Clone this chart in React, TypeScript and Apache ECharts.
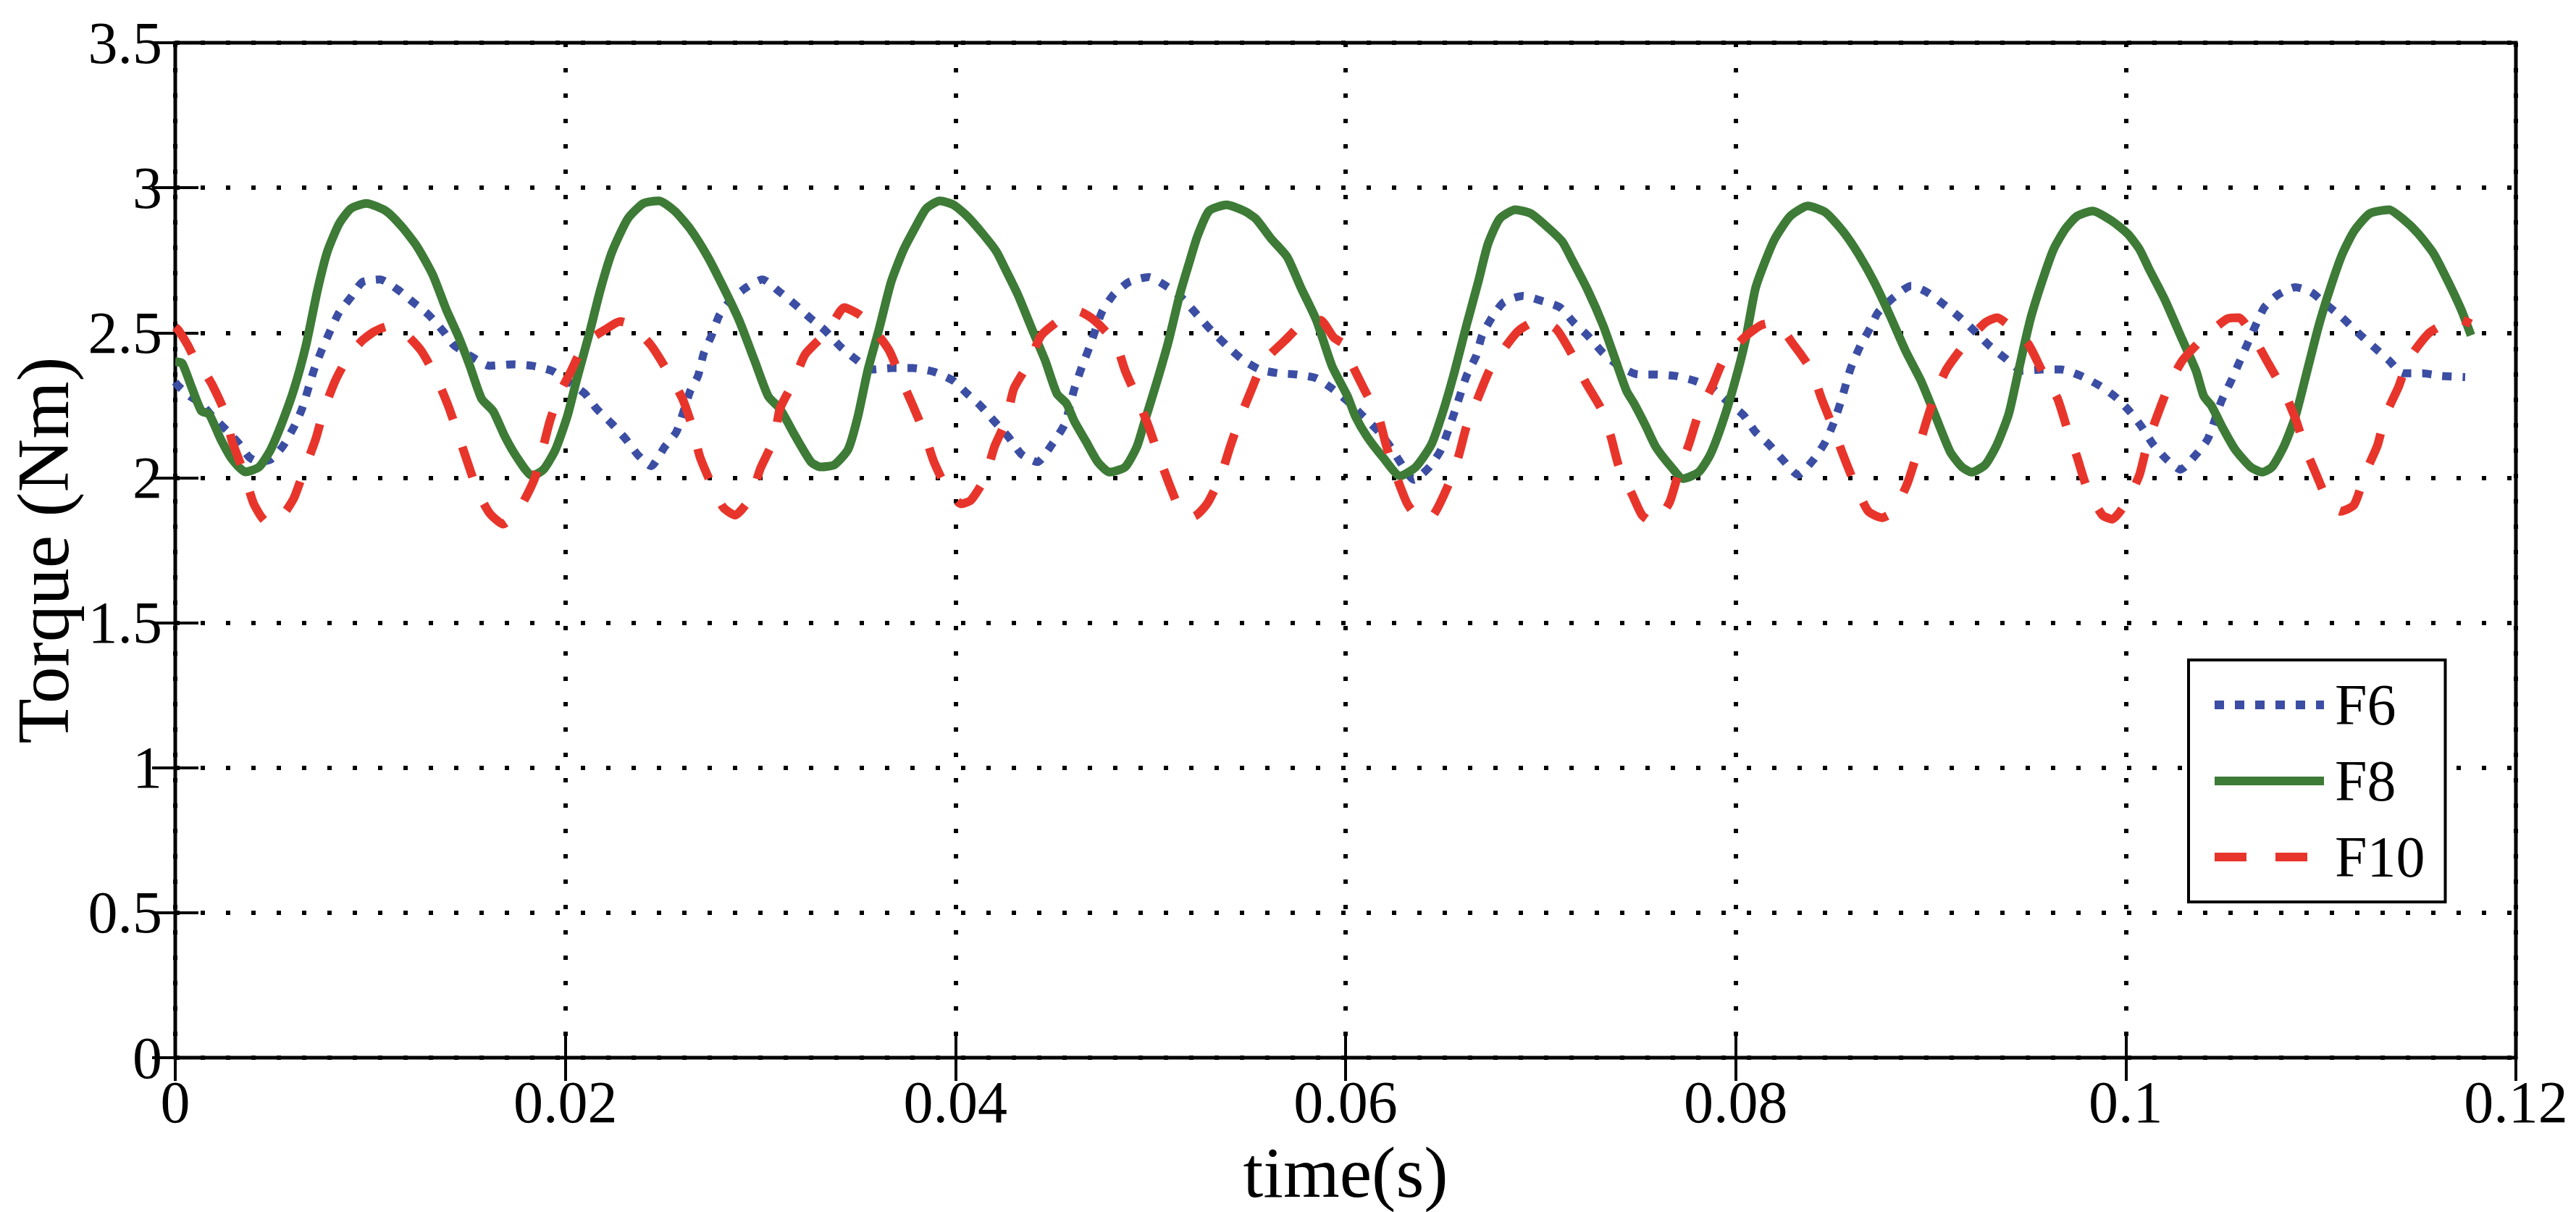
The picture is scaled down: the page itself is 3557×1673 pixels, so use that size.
import React, { useEffect, useRef } from "react";
import * as echarts from "echarts";

const SERIES_NAMES = ["F6", "F8", "F10"];
const X_MIN = 0;
const X_MAX = 0.12;
const X_STEP = 0.02;
const Y_MIN = 0;
const Y_MAX = 3.5;
const Y_STEP = 0.5;

const F6_DATA: number[][] = [
  [0, 2.33], [0.00016, 2.316], [0.00075, 2.281], [0.00134, 2.255], [0.0019, 2.212], [0.0027, 2.159],
  [0.0033, 2.115], [0.0038, 2.07], [0.0043, 2.054], [0.0049, 2.063], [0.0055, 2.107], [0.0061, 2.177],
  [0.0065, 2.238], [0.0071, 2.369], [0.0075, 2.439], [0.0079, 2.5], [0.0084, 2.57], [0.009, 2.622],
  [0.0096, 2.675], [0.0105, 2.684], [0.0114, 2.649], [0.0122, 2.605], [0.013, 2.561], [0.0138, 2.5],
  [0.0143, 2.456], [0.0153, 2.413], [0.0161, 2.386], [0.0173, 2.391], [0.0183, 2.386], [0.0193, 2.369],
  [0.0201, 2.334], [0.021, 2.29], [0.0216, 2.238], [0.0224, 2.185], [0.0231, 2.133], [0.0237, 2.08],
  [0.0244, 2.04], [0.0251, 2.107], [0.0257, 2.159], [0.0264, 2.299], [0.0268, 2.351], [0.0271, 2.43],
  [0.0275, 2.491], [0.0279, 2.561], [0.0285, 2.614], [0.0293, 2.657],
  [0.0301, 2.684], [0.031, 2.64], [0.0318, 2.596], [0.0326, 2.548], [0.0333, 2.509], [0.0341, 2.452],
  [0.0349, 2.408], [0.0357, 2.373], [0.0367, 2.378], [0.0378, 2.378], [0.0389, 2.365], [0.0399, 2.334],
  [0.0406, 2.29], [0.0413, 2.247], [0.042, 2.194], [0.0427, 2.142], [0.0434, 2.08], [0.0442, 2.054],
  [0.045, 2.12], [0.0456, 2.185], [0.0461, 2.308], [0.0465, 2.386], [0.0469, 2.456], [0.0475, 2.57],
  [0.0481, 2.631], [0.0489, 2.675], [0.0499, 2.692], [0.0509, 2.657], [0.0517, 2.614], [0.0524, 2.561],
  [0.0531, 2.509], [0.0539, 2.456], [0.0547, 2.408], [0.0556, 2.373], [0.0566, 2.36], [0.0575, 2.356],
  [0.0585, 2.343], [0.0593, 2.308], [0.0601, 2.264],
  [0.0609, 2.212], [0.0617, 2.159], [0.0623, 2.107], [0.0628, 2.054], [0.0635, 1.993], [0.0643, 2.037],
  [0.0649, 2.098], [0.0656, 2.229], [0.0662, 2.351], [0.0667, 2.421], [0.067, 2.491], [0.0675, 2.552],
  [0.0681, 2.605], [0.0691, 2.627], [0.0701, 2.609], [0.071, 2.587], [0.0717, 2.535], [0.0724, 2.491],
  [0.0732, 2.43], [0.074, 2.386], [0.075, 2.356], [0.0759, 2.356], [0.0769, 2.351], [0.0779, 2.334],
  [0.0788, 2.308], [0.0797, 2.255], [0.0804, 2.216], [0.081, 2.159], [0.0817, 2.115], [0.0824, 2.063],
  [0.0832, 2.01], [0.084, 2.063], [0.0846, 2.124], [0.085, 2.185], [0.0854, 2.264], [0.0859, 2.378],
  [0.0864, 2.456], [0.0869, 2.517], [0.0873, 2.57], [0.0881, 2.622], [0.089, 2.662], [0.0898, 2.64],
  [0.0907, 2.596], [0.0915, 2.552], [0.0922, 2.509], [0.093, 2.456], [0.0938, 2.413], [0.0947, 2.369],
  [0.0957, 2.373], [0.0967, 2.373], [0.0977, 2.351], [0.0987, 2.316], [0.0995, 2.277], [0.1002, 2.229],
  [0.1008, 2.177], [0.1014, 2.115], [0.1021, 2.063], [0.1028, 2.028], [0.1036, 2.08], [0.1042, 2.133],
  [0.1049, 2.264], [0.1054, 2.334], [0.1058, 2.395], [0.1062, 2.456], [0.1066, 2.517], [0.1071, 2.587],
  [0.1078, 2.631], [0.1087, 2.657], [0.1095, 2.64], [0.1103, 2.596], [0.1111, 2.552], [0.1119, 2.5],
  [0.1127, 2.452], [0.1135, 2.404], [0.1142, 2.36], [0.1152, 2.36], [0.1162, 2.351], [0.1174, 2.347],
];

const F8_DATA: number[][] = [
  [0, 2.4], [0.00035, 2.395], [0.00085, 2.31], [0.00134, 2.23], [0.00173, 2.22], [0.00233, 2.133],
  [0.00292, 2.063], [0.0036, 2.02], [0.0043, 2.037], [0.0049, 2.098], [0.0055, 2.194], [0.0061, 2.308],
  [0.0067, 2.456], [0.0073, 2.649], [0.0078, 2.78], [0.0084, 2.876], [0.009, 2.928], [0.0098, 2.946],
  [0.0108, 2.92], [0.0116, 2.867], [0.0124, 2.797], [0.0132, 2.7], [0.0139, 2.579], [0.0145, 2.49],
  [0.0151, 2.386], [0.0157, 2.273], [0.0163, 2.229], [0.0169, 2.142], [0.0175, 2.072], [0.0183, 2.006],
  [0.0189, 2.03], [0.0195, 2.098], [0.0201, 2.212], [0.0206, 2.343], [0.0212, 2.49], [0.0218, 2.649],
  [0.0224, 2.78], [0.0232, 2.893], [0.024, 2.946], [0.0248, 2.955], [0.0256, 2.92], [0.0264, 2.858],
  [0.0273, 2.762], [0.0281, 2.657], [0.0289, 2.544], [0.0297, 2.404],
  [0.0304, 2.281], [0.031, 2.238], [0.0318, 2.142], [0.0326, 2.054], [0.0331, 2.037], [0.0338, 2.045],
  [0.0345, 2.098], [0.035, 2.212], [0.0355, 2.369], [0.0361, 2.517], [0.0367, 2.675], [0.0373, 2.78],
  [0.0379, 2.858], [0.0385, 2.928], [0.0392, 2.955], [0.0399, 2.941], [0.0406, 2.902], [0.0414, 2.841],
  [0.0421, 2.78], [0.0425, 2.727], [0.0432, 2.631], [0.044, 2.5], [0.0446, 2.404], [0.0452, 2.29],
  [0.0457, 2.255], [0.0461, 2.194], [0.0467, 2.124], [0.0473, 2.054], [0.0479, 2.019], [0.0487, 2.037],
  [0.0493, 2.107], [0.0497, 2.194], [0.0503, 2.325], [0.0509, 2.465], [0.0515, 2.631], [0.052, 2.745],
  [0.0524, 2.832], [0.053, 2.92], [0.0539, 2.941], [0.0548, 2.92], [0.0554, 2.893], [0.0562, 2.823],
  [0.057, 2.762], [0.0577, 2.657], [0.0585, 2.544], [0.0593, 2.386], [0.0601, 2.281],
  [0.0605, 2.212], [0.0611, 2.142], [0.0619, 2.072], [0.0628, 2.006], [0.0636, 2.037], [0.0644, 2.115],
  [0.065, 2.229], [0.0656, 2.369], [0.0662, 2.526], [0.0668, 2.675], [0.0673, 2.806], [0.0679, 2.893],
  [0.0687, 2.924], [0.0695, 2.911], [0.0703, 2.867], [0.0711, 2.815], [0.0716, 2.753], [0.0724, 2.649],
  [0.0732, 2.526], [0.0738, 2.413], [0.0744, 2.3], [0.0748, 2.255], [0.0754, 2.177], [0.0759, 2.107],
  [0.0767, 2.037], [0.0773, 1.997], [0.0781, 2.019], [0.0787, 2.08], [0.0793, 2.185], [0.0799, 2.316],
  [0.0805, 2.474], [0.081, 2.649], [0.0814, 2.727], [0.082, 2.823], [0.0828, 2.902], [0.0837, 2.937],
  [0.0846, 2.915], [0.0855, 2.85], [0.0863, 2.771], [0.0871, 2.675], [0.0879, 2.561], [0.0887, 2.439],
  [0.0895, 2.334], [0.0902, 2.22],
  [0.091, 2.089], [0.0916, 2.037], [0.0921, 2.019], [0.0928, 2.045], [0.0934, 2.115], [0.094, 2.22],
  [0.0945, 2.369], [0.0951, 2.544], [0.0957, 2.675], [0.0963, 2.788], [0.0969, 2.858], [0.0975, 2.902],
  [0.0983, 2.92], [0.0993, 2.885], [0.1001, 2.841], [0.1007, 2.788], [0.1012, 2.719], [0.102, 2.614],
  [0.1028, 2.491], [0.1036, 2.369], [0.104, 2.281], [0.1044, 2.247], [0.105, 2.168], [0.1056, 2.098],
  [0.1064, 2.037], [0.107, 2.019], [0.1075, 2.037], [0.1081, 2.107], [0.1087, 2.212], [0.1093, 2.369],
  [0.1099, 2.526], [0.1105, 2.657], [0.1111, 2.771], [0.1117, 2.85], [0.1125, 2.911], [0.1135, 2.924],
  [0.1142, 2.893], [0.115, 2.841], [0.1158, 2.771], [0.1166, 2.666], [0.1172, 2.579], [0.1177, 2.491],
];

const F10_DATA: number[][] = [
  [0, 2.52], [0.00016, 2.509], [0.00065, 2.456], [0.00104, 2.404], [0.00154, 2.36], [0.00193, 2.316],
  [0.00252, 2.229], [0.00292, 2.124], [0.00351, 2.019], [0.004, 1.914], [0.0044, 1.866], [0.0048, 1.84],
  [0.0053, 1.862], [0.0057, 1.888], [0.0061, 1.932], [0.0066, 2.024], [0.0072, 2.133], [0.0076, 2.229],
  [0.0082, 2.334], [0.0089, 2.421], [0.0096, 2.474], [0.0102, 2.504], [0.0109, 2.522], [0.0116, 2.509],
  [0.0126, 2.439], [0.0134, 2.343], [0.014, 2.247], [0.0145, 2.15], [0.015, 2.05], [0.0155, 1.954],
  [0.0161, 1.879], [0.0168, 1.84], [0.0176, 1.888], [0.0184, 1.993], [0.0188, 2.089], [0.0192, 2.194],
  [0.0197, 2.29], [0.0203, 2.369], [0.0208, 2.439], [0.0214, 2.483], [0.022, 2.509], [0.0228, 2.539],
  [0.0234, 2.526], [0.0244, 2.456], [0.0253, 2.36], [0.026, 2.273], [0.0265, 2.177], [0.0269, 2.072],
  [0.0275, 1.976], [0.0281, 1.897], [0.0287, 1.871], [0.0295, 1.932], [0.03, 2.032], [0.0307, 2.133],
  [0.031, 2.238], [0.0317, 2.33], [0.0323, 2.426], [0.0335, 2.509], [0.0343, 2.587], [0.0351, 2.561],
  [0.0357, 2.522], [0.0366, 2.439], [0.0372, 2.343], [0.0378, 2.251], [0.0384, 2.155], [0.0389, 2.054],
  [0.0396, 1.958], [0.0403, 1.91], [0.0408, 1.923], [0.0415, 1.997], [0.042, 2.107], [0.0426, 2.198],
  [0.043, 2.308], [0.0438, 2.4], [0.0444, 2.491], [0.0457, 2.561], [0.0463, 2.574], [0.0471, 2.544],
  [0.0482, 2.465], [0.0487, 2.369], [0.0493, 2.277], [0.0499, 2.177], [0.0504, 2.08], [0.051, 1.971],
  [0.0516, 1.879], [0.0522, 1.866], [0.0529, 1.91], [0.0536, 2.006], [0.0541, 2.111], [0.0546, 2.207],
  [0.0552, 2.308], [0.0558, 2.4], [0.0569, 2.474], [0.0581, 2.544], [0.0587, 2.544], [0.0594, 2.483],
  [0.06, 2.456], [0.0603, 2.395], [0.061, 2.299], [0.0617, 2.207], [0.0621, 2.107], [0.0626, 2.006],
  [0.0632, 1.906], [0.0639, 1.857], [0.0645, 1.871], [0.0653, 1.98], [0.0658, 2.076], [0.0662, 2.177],
  [0.0668, 2.277], [0.0674, 2.373], [0.0683, 2.461], [0.0689, 2.509], [0.0699, 2.544], [0.0708, 2.513],
  [0.0716, 2.426], [0.0723, 2.33], [0.0731, 2.238], [0.0736, 2.142], [0.074, 2.041], [0.0747, 1.941],
  [0.0752, 1.871], [0.0758, 1.844], [0.0766, 1.914], [0.0771, 2.024], [0.0776, 2.115], [0.0781, 2.22],
  [0.0788, 2.316], [0.0794, 2.408], [0.0805, 2.487], [0.0813, 2.526], [0.082, 2.535], [0.083, 2.456],
  [0.0839, 2.369], [0.0844, 2.273], [0.085, 2.172], [0.0855, 2.08], [0.0861, 1.98], [0.0868, 1.884],
  [0.0875, 1.862], [0.0881, 1.884], [0.0888, 1.98], [0.0893, 2.085], [0.0897, 2.177], [0.0902, 2.281],
  [0.0908, 2.373], [0.0918, 2.465], [0.0928, 2.535], [0.0934, 2.552], [0.094, 2.526], [0.095, 2.461],
  [0.0957, 2.369], [0.0965, 2.273], [0.097, 2.168], [0.0975, 2.072], [0.098, 1.967], [0.0988, 1.871],
  [0.0993, 1.857], [0.1001, 1.923], [0.1007, 2.01], [0.1011, 2.115], [0.1016, 2.212], [0.1022, 2.316],
  [0.1029, 2.404], [0.104, 2.483], [0.1052, 2.548], [0.1058, 2.552], [0.1066, 2.478], [0.1073, 2.395],
  [0.1081, 2.299], [0.1087, 2.203], [0.1092, 2.102], [0.1098, 2.006], [0.1104, 1.914], [0.111, 1.884],
  [0.1117, 1.906], [0.1123, 2.019], [0.1129, 2.111], [0.1133, 2.212], [0.114, 2.316], [0.1145, 2.408],
  [0.1155, 2.496], [0.1162, 2.526], [0.117, 2.548], [0.1177, 2.531],
];

const FONT = "'Liberation Serif', 'Times New Roman', serif";
const BLUE = "#3b4ea3";
const GREEN = "#3d7b37";
const RED = "#e8352b";

export default function App() {
  const ref = useRef<HTMLDivElement>(null);

  useEffect(() => {
    if (!ref.current) return;
    const chart = echarts.init(ref.current, null, { renderer: "svg" });
    const tickStyle = { color: "#000", width: 4 };
    const gridDots = { color: "#000", width: 6, type: [6, 29], cap: "butt" };
    const option: any = {
      animation: false,
      backgroundColor: "#fff",
      grid: {
        left: 238,
        right: 83,
        top: 59,
        bottom: 212,
        show: true,
        borderColor: "#000",
        borderWidth: 5,
        backgroundColor: "#fff",
        z: 0,
      },
      xAxis: [
        {
          type: "value",
          min: X_MIN,
          max: X_MAX,
          interval: X_STEP,
          position: "bottom",
          axisLine: { show: false },
          axisTick: { show: true, inside: true, length: 32, lineStyle: tickStyle },
          axisLabel: { color: "#000", fontFamily: FONT, fontSize: 82, margin: 20 },
          splitLine: { show: true, lineStyle: gridDots },
          name: "time(s)",
          nameLocation: "middle",
          nameGap: 108,
          nameTextStyle: { color: "#000", fontFamily: FONT, fontSize: 100 },
        },
        {
          type: "value",
          min: X_MIN,
          max: X_MAX,
          interval: X_STEP,
          position: "top",
          axisLine: { show: false },
          axisTick: { show: true, inside: true, length: 32, lineStyle: tickStyle },
          axisLabel: { show: false },
          splitLine: { show: false },
        },
      ],
      yAxis: [
        {
          type: "value",
          min: Y_MIN,
          max: Y_MAX,
          interval: Y_STEP,
          position: "left",
          axisLine: { show: false },
          axisTick: { show: true, inside: true, length: 32, lineStyle: tickStyle },
          axisLabel: { color: "#000", fontFamily: FONT, fontSize: 82, margin: 18 },
          splitLine: { show: true, lineStyle: gridDots },
          name: "Torque (Nm)",
          nameLocation: "middle",
          nameGap: 132,
          nameRotate: 90,
          nameTextStyle: { color: "#000", fontFamily: FONT, fontSize: 102 },
        },
        {
          type: "value",
          min: Y_MIN,
          max: Y_MAX,
          interval: Y_STEP,
          position: "right",
          axisLine: { show: false },
          axisTick: { show: true, inside: true, length: 32, lineStyle: tickStyle },
          axisLabel: { show: false },
          splitLine: { show: false },
        },
      ],
      legend: {
        orient: "vertical",
        left: 3022,
        top: 911,
        data: SERIES_NAMES,
        selectedMode: false,
        itemWidth: 151,
        itemHeight: 20,
        itemGap: 25,
        padding: [22, 28, 22, 30],
        borderColor: "#000",
        borderWidth: 4,
        borderRadius: 0,
        backgroundColor: "#fff",
        lineStyle: { width: 12 },
        itemStyle: { opacity: 0 },
        textStyle: { color: "#000", fontFamily: FONT, fontSize: 80, padding: [0, 0, 0, 10] },
      },
      series: [
        {
          name: SERIES_NAMES[0],
          type: "line",
          data: F6_DATA,
          symbol: "none",
          showSymbol: false,
          smooth: 0.2,
          itemStyle: { color: BLUE },
          lineStyle: { color: BLUE, width: 11, type: [13, 15], cap: "butt" },
          z: 3,
        },
        {
          name: SERIES_NAMES[1],
          type: "line",
          data: F8_DATA,
          symbol: "none",
          showSymbol: false,
          smooth: 0.2,
          itemStyle: { color: GREEN },
          lineStyle: { color: GREEN, width: 12, type: "solid", join: "round" },
          z: 4,
        },
        {
          name: SERIES_NAMES[2],
          type: "line",
          data: F10_DATA,
          symbol: "none",
          showSymbol: false,
          smooth: 0.2,
          itemStyle: { color: RED },
          lineStyle: { color: RED, width: 12, type: [44, 40], cap: "butt" },
          z: 5,
        },
      ],
    };
    chart.setOption(option);
    return () => chart.dispose();
  }, []);

  return (
    <div
      ref={ref}
      style={{ position: "fixed", left: 0, top: 0, width: 3557, height: 1673, background: "#fff" }}
    />
  );
}
